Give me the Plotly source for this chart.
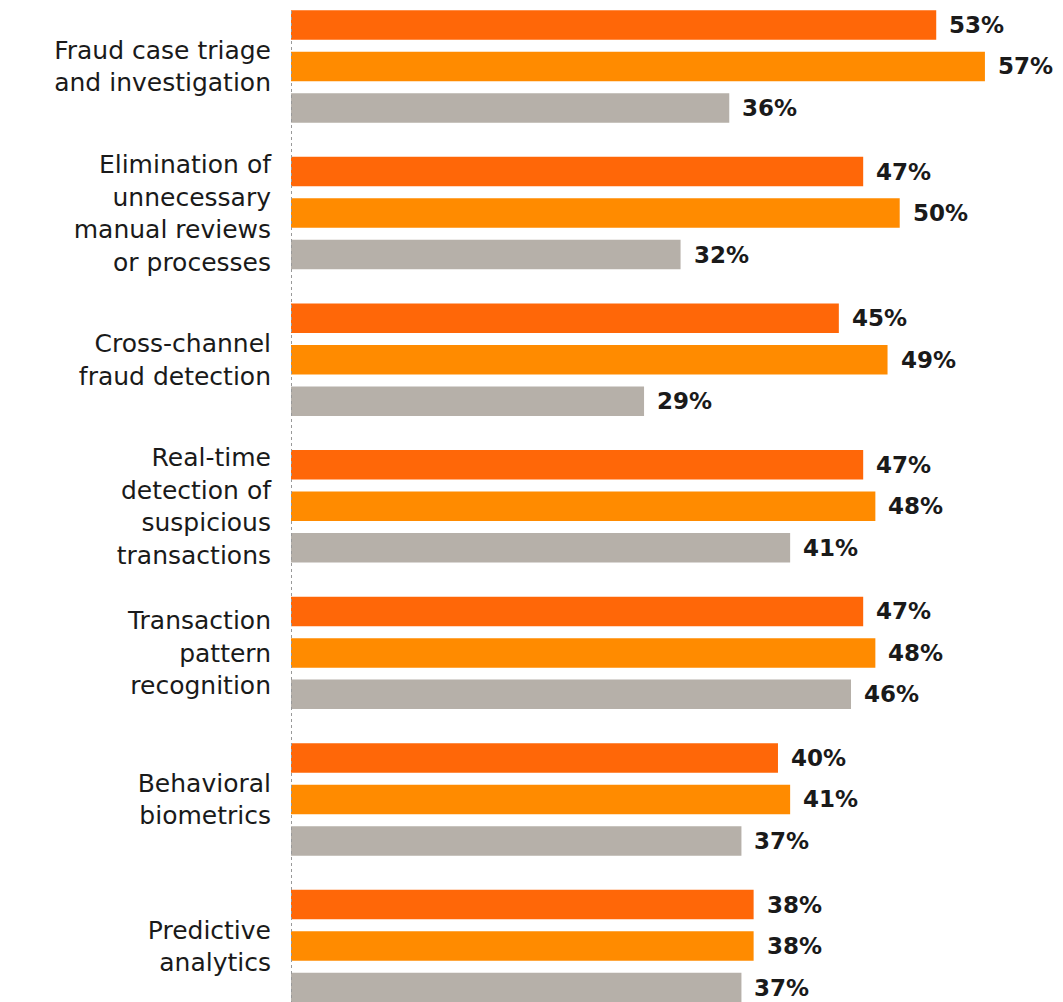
import plotly.graph_objects as go

categories = [
    "Fraud case triage<br>and investigation",
    "Elimination of<br>unnecessary<br>manual reviews<br>or processes",
    "Cross-channel<br>fraud detection",
    "Real-time<br>detection of<br>suspicious<br>transactions",
    "Transaction<br>pattern<br>recognition",
    "Behavioral<br>biometrics",
    "Predictive<br>analytics",
]
series_names = ["Series A", "Series B", "Series C"]
series_a = [53, 47, 45, 47, 47, 40, 38]
series_b = [57, 50, 49, 48, 48, 41, 38]
series_c = [36, 32, 29, 41, 46, 37, 37]
colors = ["#FF6708", "#FF8B00", "#B6B0A9"]

all_series = [series_a, series_b, series_c]

FONT = "DejaVu Sans"

fig = go.Figure()
for name, vals, col in zip(series_names, all_series, colors):
    fig.add_trace(go.Bar(
        y=categories, x=vals, name=name, orientation="h",
        marker=dict(color=col, line=dict(width=0)),
        hoverinfo="x+y",
    ))

pitch = 41.5
for j, vals in enumerate(all_series):
    for cat, v in zip(categories, vals):
        fig.add_annotation(
            x=v, y=cat, xref="x", yref="y",
            text=f"{v}%", showarrow=False,
            xanchor="left", yanchor="middle",
            xshift=11, yshift=(1 - j) * pitch,
            font=dict(family=FONT, size=23, color="#1a1a1a", weight="bold"),
        )

fig.add_shape(type="line", xref="x", yref="paper", x0=0, x1=0, y0=0, y1=1,
              line=dict(color="#999999", width=2, dash="dot"), layer="above")

fig.update_layout(
    width=1063, height=1002,
    margin=dict(l=283, r=0, t=0, b=0),
    paper_bgcolor="white", plot_bgcolor="white",
    barmode="group", bargap=0.151, bargroupgap=0.289,
    showlegend=False,
    font=dict(family=FONT, color="#1a1a1a"),
)
fig.update_xaxes(range=[0, 64.07], showgrid=False, zeroline=False,
                 showticklabels=False, showline=False)
fig.update_yaxes(type="category", categoryorder="array", categoryarray=categories,
                 range=[6.436, -0.399], showgrid=False, zeroline=False, showline=False,
                 ticks="", ticklabelstandoff=19,
                 tickfont=dict(family=FONT, size=25, color="#1a1a1a"))

fig.write_html("out.html")
